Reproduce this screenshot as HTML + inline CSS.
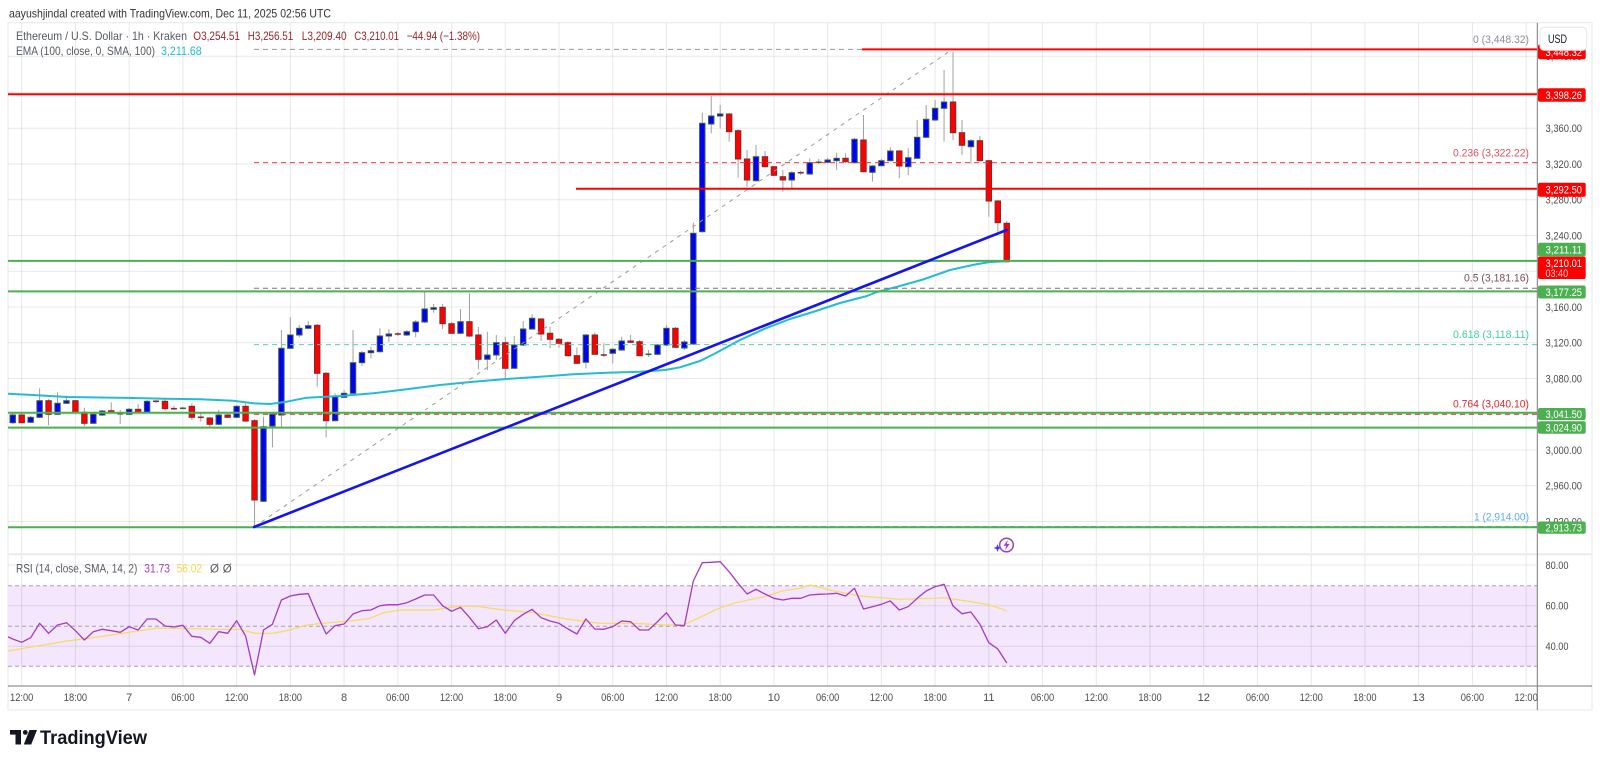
<!DOCTYPE html>
<html><head><meta charset="utf-8">
<style>
html,body{margin:0;padding:0;background:#fff;width:1600px;height:763px;overflow:hidden}
svg{display:block;font-family:"Liberation Sans",Arial,sans-serif}
</style></head><body>
<svg id="s" width="1600" height="763" viewBox="0 0 1600 763" xmlns="http://www.w3.org/2000/svg">
<defs>
<clipPath id="cp"><rect x="8" y="23" width="1529" height="530"/></clipPath>
<clipPath id="cr"><rect x="8" y="555" width="1529" height="131"/></clipPath>
</defs>
<rect x="0" y="0" width="1600" height="763" fill="#fff"/>
<text x="9" y="17.5" font-size="12" fill="#333" textLength="322" lengthAdjust="spacingAndGlyphs">aayushjindal created with TradingView.com, Dec 11, 2025 02:56 UTC</text>
<rect x="8" y="22.7" width="1584" height="687.3" fill="#fff" stroke="#e6e7ea" stroke-width="1"/>
<rect x="8" y="585.7" width="1529" height="80.6" fill="#f3e6fd"/>
<g id="grid"></g>
<rect x="8" y="553" width="1584" height="2.5" fill="#eceef2"/>
<g stroke="#a7a3ad" stroke-width="1" stroke-dasharray="4 3">
<line x1="8" y1="585.7" x2="1537" y2="585.7"/>
<line x1="8" y1="626.3" x2="1537" y2="626.3"/>
<line x1="8" y1="666.3" x2="1537" y2="666.3"/>
</g>
<g clip-path="url(#cp)">
<g id="candles"></g>
<polyline fill="none" stroke="#22bcd4" stroke-width="2" stroke-linejoin="round" points="8,393.7 33,395 66.7,397 100,397.5 133.3,398 166,398.8 200,399.3 233.3,400.7 253.3,403.3 270,404 286.7,401.7 306.7,397.7 340,396 373.3,393.3 406.7,389.3 440,385 473.3,381.7 506.7,379 540,376.7 573.3,374.3 606.7,372.7 640,371.7 665,370 680,367.3 700,361 714,354 740,340 765,328.6 790,319 816,311 840,303 867,296 877,292 900,286 923,279.5 950,270 975,264.5 990,262 1006.7,261.2"/>
<!-- fib dashed levels -->
<g stroke-width="1" stroke-dasharray="5 4" fill="none">
<line x1="254" y1="49.4" x2="1537" y2="49.4" stroke="#9598a1"/>
<line x1="254" y1="162.6" x2="1537" y2="162.6" stroke="#e8404a"/>
<line x1="254" y1="288.2" x2="1537" y2="288.2" stroke="#8f6a7e"/>
<line x1="254" y1="344.6" x2="1537" y2="344.6" stroke="#55d4b0"/>
<line x1="254" y1="414.2" x2="1537" y2="414.2" stroke="#e0282d"/>
<line x1="254" y1="526.5" x2="1537" y2="526.5" stroke="#64b5f6"/>
<line x1="254" y1="527" x2="952" y2="49.5" stroke="#9a9a9a" stroke-dasharray="4 5"/>
</g>
<!-- horizontal lines -->
<g stroke-width="2">
<line x1="862" y1="49.4" x2="1537" y2="49.4" stroke="#ff0000"/>
<line x1="8" y1="94.3" x2="1537" y2="94.3" stroke="#ff0000"/>
<line x1="576" y1="188.8" x2="1537" y2="188.8" stroke="#ff0000"/>
<line x1="8" y1="260.9" x2="1537" y2="260.9" stroke="#4caf50"/>
<line x1="8" y1="291.4" x2="1537" y2="291.4" stroke="#4caf50"/>
<line x1="8" y1="412.8" x2="1537" y2="412.8" stroke="#4caf50"/>
<line x1="8" y1="427.6" x2="1537" y2="427.6" stroke="#4caf50"/>
<line x1="8" y1="527.3" x2="1537" y2="527.3" stroke="#4caf50"/>
</g>
<line x1="254" y1="527" x2="1006.7" y2="230" stroke="#1414f0" stroke-width="2.6" stroke-linecap="round"/>
</g>
<!-- fib labels -->
<g font-size="11" text-anchor="end">
<text x="1529" y="43" fill="#8a8d96" textLength="56" lengthAdjust="spacingAndGlyphs">0 (3,448.32)</text>
<text x="1529" y="156.3" fill="#e05060" textLength="76" lengthAdjust="spacingAndGlyphs">0.236 (3,322.22)</text>
<text x="1529" y="281.7" fill="#7d4d5e" textLength="65" lengthAdjust="spacingAndGlyphs">0.5 (3,181.16)</text>
<text x="1529" y="338" fill="#45cfa0" textLength="76" lengthAdjust="spacingAndGlyphs">0.618 (3,118.11)</text>
<text x="1529" y="407.3" fill="#e0282d" textLength="76" lengthAdjust="spacingAndGlyphs">0.764 (3,040.10)</text>
<text x="1529" y="520.7" fill="#5aaee8" textLength="55" lengthAdjust="spacingAndGlyphs">1 (2,914.00)</text>
</g>
<!-- legend -->
<g font-size="12">
<text x="16" y="40" fill="#555a60" textLength="171" lengthAdjust="spacingAndGlyphs">Ethereum / U.S. Dollar · 1h · Kraken</text>
<text x="193.3" y="40" fill="#9a2626" textLength="46.7" lengthAdjust="spacingAndGlyphs">O3,254.51</text>
<text x="247.7" y="40" fill="#9a2626" textLength="45.6" lengthAdjust="spacingAndGlyphs">H3,256.51</text>
<text x="301.7" y="40" fill="#9a2626" textLength="45" lengthAdjust="spacingAndGlyphs">L3,209.40</text>
<text x="354.3" y="40" fill="#9a2626" textLength="44.7" lengthAdjust="spacingAndGlyphs">C3,210.01</text>
<text x="406.7" y="40" fill="#9a2626" textLength="73.3" lengthAdjust="spacingAndGlyphs">−44.94 (−1.38%)</text>
<text x="16" y="55" fill="#555a60" textLength="139" lengthAdjust="spacingAndGlyphs">EMA (100, close, 0, SMA, 100)</text>
<text x="161" y="55" fill="#1fbcd2" textLength="40.7" lengthAdjust="spacingAndGlyphs">3,211.68</text>
</g>
<!-- RSI -->
<g clip-path="url(#cr)">
<polyline fill="none" stroke="#f7dc5a" stroke-width="1.2" stroke-linejoin="round" points="8,651 33.3,646.7 66.7,641 100,636.7 133.3,631.7 156.7,628.3 183.3,628.3 216.7,629.3 240,629.3 255,633.3 273.3,633.3 290,630 306.7,625 333.3,622.3 353.3,620.7 370,618.3 383.3,612.7 400,610 433.3,610 460,606 480,606.7 500,609.5 533.3,612.7 566.7,619 600,623.3 633.3,623.3 666.7,625 683.3,625 700,617.3 716.7,609.3 733.3,603.3 766.7,596 783.3,590.7 800,588.3 810,585 833.3,590.7 860,596 900,599.3 933.3,598.3 943.3,597.7 966.7,601 986.7,604.3 1000,608.3 1006.7,611"/>
<polyline id="rsi" fill="none" stroke="#a33cbf" stroke-width="1.3" stroke-linejoin="round" points=""/>
</g>
<g font-size="11.5">
<text x="16" y="572.3" fill="#555a60" textLength="121.3" lengthAdjust="spacingAndGlyphs">RSI (14, close, SMA, 14, 2)</text>
<text x="144.3" y="572.3" fill="#a33cbf" textLength="25.7" lengthAdjust="spacingAndGlyphs">31.73</text>
<text x="176.7" y="572.3" fill="#f7d84a" textLength="25.3" lengthAdjust="spacingAndGlyphs">56.02</text>
<text x="210" y="572.3" fill="#555a60">Ø</text>
<text x="222.7" y="572.3" fill="#555a60">Ø</text>
</g>
<!-- icon -->
<g>
<circle cx="1006.5" cy="545" r="6.8" fill="#fff" stroke="#a33cbf" stroke-width="1.5"/>
<path d="M1008,539.8 L1003.6,545.8 L1006.3,545.8 L1005,550.2 L1009.6,544 L1006.8,544 Z" fill="#a33cbf"/>
<path d="M997.5,544 L998.6,547 L1001.5,548 L998.6,549 L997.5,552 L996.4,549 L993.5,548 L996.4,547 Z" fill="#3b3bff"/>
</g>
<!-- axes -->
<line x1="1537.3" y1="22.7" x2="1537.3" y2="710" stroke="#7a7a7a" stroke-width="1"/>
<line x1="8" y1="686" x2="1592" y2="686" stroke="#7a7a7a" stroke-width="1"/>
<g id="axis" font-size="11" fill="#4d4d4d"></g>
<!-- price boxes -->
<g font-size="11" fill="#fff">
<rect x="1538" y="44.5" width="47.7" height="14.8" rx="2" fill="#ff0000"/>
<text x="1545.5" y="56" textLength="36.5" lengthAdjust="spacingAndGlyphs">3,448.32</text>
<rect x="1538" y="88.3" width="47.7" height="13.4" rx="2" fill="#ff0000"/>
<text x="1545.5" y="99" textLength="36.5" lengthAdjust="spacingAndGlyphs">3,398.26</text>
<rect x="1538" y="182.7" width="47.7" height="14" rx="2" fill="#ff0000"/>
<text x="1545.5" y="193.7" textLength="36.5" lengthAdjust="spacingAndGlyphs">3,292.50</text>
<rect x="1538" y="242.7" width="47.7" height="13.6" rx="2" fill="#4caf50"/>
<text x="1545.5" y="253.5" textLength="36.5" lengthAdjust="spacingAndGlyphs">3,211.11</text>
<rect x="1538" y="256.5" width="47.7" height="22.5" rx="2" fill="#ff0000"/>
<text x="1545.5" y="266.8" textLength="36.5" lengthAdjust="spacingAndGlyphs">3,210.01</text>
<text x="1545.5" y="277" fill="#ffd0d0" textLength="22.6" lengthAdjust="spacingAndGlyphs">03:40</text>
<rect x="1538" y="285.5" width="47.7" height="13" rx="2" fill="#4caf50"/>
<text x="1545.5" y="296" textLength="36.5" lengthAdjust="spacingAndGlyphs">3,177.25</text>
<rect x="1538" y="408" width="47.7" height="12" rx="2" fill="#4caf50"/>
<text x="1545.5" y="418" textLength="36.5" lengthAdjust="spacingAndGlyphs">3,041.50</text>
<rect x="1538" y="421.3" width="47.7" height="12.4" rx="2" fill="#4caf50"/>
<text x="1545.5" y="431.5" textLength="36.5" lengthAdjust="spacingAndGlyphs">3,024.90</text>
<rect x="1538" y="521.5" width="47.7" height="12.2" rx="2" fill="#4caf50"/>
<text x="1545.5" y="531.6" textLength="36.5" lengthAdjust="spacingAndGlyphs">2,913.73</text>
</g>
<rect x="1540" y="27.3" width="46.7" height="23" rx="4" fill="#fff" stroke="#e3e5ea"/>
<text x="1548" y="43" font-size="11.5" fill="#131722" textLength="19" lengthAdjust="spacingAndGlyphs">USD</text>
<!-- logo -->
<g fill="#131722">
<rect x="10" y="730" width="11" height="4.6"/>
<rect x="15.5" y="730" width="5.5" height="14.5"/>
<circle cx="25.3" cy="732.4" r="2.4"/>
<path d="M29.5,730 L37,730 L31.2,744.5 L23.8,744.5 Z"/>
<text x="40" y="744" font-size="19.5" font-weight="bold" textLength="107" lengthAdjust="spacingAndGlyphs">TradingView</text>
</g>
</svg>
<script>
(function(){
var NS="http://www.w3.org/2000/svg";
function el(tag,attrs,parent,text){var e=document.createElementNS(NS,tag);for(var k in attrs)e.setAttribute(k,attrs[k]);if(text!=null)e.textContent=text;parent.appendChild(e);return e;}
function X(h){return 21.7+8.955*h;}
var grid=document.getElementById('grid');
// vertical grid
for(var k=0;k<=28;k++){var x=21.7+53.73*k;el('line',{x1:x,y1:23,x2:x,y2:686,stroke:'#000','stroke-opacity':0.09,'stroke-width':1},grid);}
// horizontal price grid
var ticks=[[3440,56.3],[3400,92.6],[3360,128.3],[3320,164],[3280,199.8],[3240,235.5],[3200,271.3],[3160,307],[3120,342.8],[3080,378.5],[3040,414.3],[3000,450],[2960,485.8],[2920,521.5]];
ticks.forEach(function(t){el('line',{x1:8,y1:t[1],x2:1537,y2:t[1],stroke:'#000','stroke-opacity':0.085,'stroke-width':1},grid);});
[565,605.7,646.3].forEach(function(y){el('line',{x1:8,y1:y,x2:1537,y2:y,stroke:'#000','stroke-opacity':0.085,'stroke-width':1},grid);});
// axis labels
var ax=document.getElementById('axis');
function fmt(v){var s=String(v);return s.charAt(0)+','+s.slice(1)+'.00';}
ticks.forEach(function(t){el('text',{x:1545.5,y:t[1]+3.9,textLength:36.5,lengthAdjust:'spacingAndGlyphs'},ax,fmt(t[0]));});
[[80,565],[60,605.7],[40,646.3]].forEach(function(t){el('text',{x:1545.5,y:t[1]+3.9,textLength:23,lengthAdjust:'spacingAndGlyphs'},ax,t[0]+'.00');});
for(var k=0;k<=28;k++){var m=k%4,lab;if(m==0)lab='12:00';else if(m==1)lab='18:00';else if(m==3)lab='06:00';else lab=String(7+Math.floor((k-2)/4));
var a={x:21.7+53.73*k,y:701,'text-anchor':'middle'};if(lab.length>2){a.textLength=23.3;a.lengthAdjust='spacingAndGlyphs';}
el('text',a,ax,lab);}
// candles [h, bodyTop, bodyBot, wickTop, wickBot, up]
var C=[
[-1,415,422.7,412,424,1],[0,415,422.7,413,423.5,0],[1,417.3,422.3,416,423,1],[2,400.7,417.3,388.3,418,1],[3,400.7,414.3,399,425.3,0],
[4,403.3,414.3,392.3,415,1],[5,400.7,403.3,395.7,404,1],[6,400.7,412.3,400,413,0],[7,412.3,423.3,407.7,426,0],[8,414.3,423.3,413,424,1],
[9,411,415,410,416,1],[10,410.7,412.3,402.3,413,0],[11,413.7,413.7,410,424,0],[12,409.3,414.3,408,415,1],[13,409.3,412.3,404.3,413,0],
[14,401.3,412.3,400,413,1],[15,401.3,401.3,400,403.3,0],[16,401.3,408.7,398,410.7,0],[17,408.7,408.7,405.7,410,0],[18,408.3,408.3,407,409.5,1],
[19,406.3,417.3,403.3,420,0],[20,417.3,417.3,413.3,421.7,0],[21,418,424.3,417,426.7,0],[22,415,424.3,410,425,1],[23,415,417.3,414,418,0],
[24,406.3,417.3,405,418,1],[25,406.3,421,403.3,422,0],[26,420.7,500,419,526.7,0],[27,426.7,501.3,416.7,502,1],[28,414.3,426,413,447.3,1],
[29,348.3,415,330,426.7,1],[30,335,348.3,317.3,349,1],[31,328.3,335,325,337,1],[32,325.7,328.3,321,329,1],[33,325.3,373.3,324,386.7,0],
[34,373.3,420.7,372,437.3,0],[35,396.7,420.7,393.3,421.5,1],[36,393.3,397.3,390,398,1],[37,362.7,393.3,330,394,1],[38,352.7,362.7,351,366,1],
[39,350.7,352.7,346.7,358.3,1],[40,336,351.7,328.3,352.5,1],[41,334,336,329.3,341.7,1],[42,334,334,332,336,0],[43,331.7,335,330,336,1],
[44,322,331.7,320,337.3,1],[45,309,322,290.7,323,1],[46,307.7,309.3,304,312.7,1],[47,307.3,323.7,304,329,0],[48,323.7,333.3,322,334,0],
[49,321.7,333.3,309,334,1],[50,321.7,336,293.3,337,0],[51,335,359.3,327,369.3,0],[52,355,359.3,331.7,370,1],[53,342.7,355,335,360,1],
[54,342.7,368.3,336.7,380,0],[55,345,368.3,336,369,1],[56,329,345,321,346,1],[57,318.3,329,314.3,330,1],[58,319,334,318,341,0],
[59,333.3,339.3,326.7,348.3,0],[60,339.3,343.3,338,348,0],[61,342.7,355.7,341,356.5,0],[62,355.7,363.3,347.3,364,0],[63,335,362.3,334,368.3,1],
[64,335,354.3,332.7,355,0],[65,355,355,343.3,357,0],[66,349.3,353.3,348,363.3,1],[67,341,350,336.7,351,1],[68,341,342.3,335,343,0],
[69,341.7,355.7,340,356.5,0],[70,354.3,354.3,350,357,1],[71,345,354.3,344,355,1],[72,328.3,345,325,346,1],[73,328.3,347.3,327,348,0],
[74,342,348,340,350,1],[75,233.3,344,222.7,345,1],[76,123.3,231.7,112.7,232.5,1],[77,116,124,96,133.3,1],[78,114,116,105,128.3,1],
[79,114,131.7,113,141.7,0],[80,130.7,159,129,177.7,0],[81,159,180,150,186.7,0],[82,156.7,180.7,145,181.7,1],[83,156.7,166.7,151,167.5,0],
[84,166.7,175.3,166,176,0],[85,176.7,180,170,191.7,0],[86,172.7,180,171,187.7,1],[87,172.7,172.7,170.7,175,0],[88,162.7,174,158.3,175,1],
[89,162.3,162.3,159,164,1],[90,160,162.3,158,163,1],[91,158.3,160.7,152.7,170,1],[92,158.3,161.7,153.3,163,0],[93,139.3,162.7,138,163.5,1],
[94,140,171.7,115,172.5,0],[95,166,172.3,165,181.7,1],[96,160.7,165.7,159,166.5,1],[97,151,160.7,147.3,161.5,1],[98,151,166,150,178.3,0],
[99,157.7,166.7,148.3,175,1],[100,137.3,158.3,120,159,1],[101,119.3,137.3,105,138,1],[102,108.3,120,100,121,1],[103,102,108.3,70,141.7,1],
[104,102,132.7,51.7,140,0],[105,132.7,145.3,120,155,0],[106,140.7,146.7,139,163.3,1],[107,140.7,160.7,136,161.5,0],[108,160.7,201,160,216.7,0],
[109,201,222.7,200,231.7,0],[110,223.3,261.7,221,262.5,0]];
var cg=document.getElementById('candles');
C.forEach(function(c){var x=X(c[0]);
el('line',{x1:x,y1:c[3],x2:x,y2:c[4],stroke:'#a0a0a0','stroke-width':1},cg);
if(c[2]-c[1]<1.2){el('line',{x1:x-3,y1:c[1],x2:x+3,y2:c[1],stroke:c[5]?'#2f6a3a':'#8a2a2a','stroke-width':1.6},cg);}
else{el('rect',{x:x-2.7,y:c[1],width:5.4,height:c[2]-c[1],fill:c[5]?'#0000ff':'#ff0000',stroke:c[5]?'#3b5e40':'#7d2b2b','stroke-width':1},cg);}
});
// RSI
var R=[639,642.3,637.7,623.3,633.3,625,622.7,630.7,640,631.7,629.3,630.7,632.3,626.7,630,619,619,626,627,625.3,636.3,637.3,643.3,631.7,633.3,620.7,636,675,630,624.3,600,596,594.3,593.7,615,634,625.7,624,614,610.7,610,605.7,604.7,604.7,602.7,599,595,595,605.7,611.3,607.3,617.3,628.7,626.7,620,633.3,620.7,614.3,609.3,617.7,621,623.3,629,634,619,629,629.3,626.7,621,621.7,630,630,621.7,612.7,625,625.7,581,562.7,562.3,561.7,571.7,583.3,594,589.3,594,598.3,600,598.3,598.3,595,594.3,594,593.3,596,588.3,609,606.7,604.3,601,610,606.7,598.3,591,586.7,584.3,606,613.7,612,624.3,642.7,649,663];
var pts=[X(-2)+','+635];
for(var i=0;i<R.length;i++){pts.push(X(i-1).toFixed(1)+','+R[i]);}
document.getElementById('rsi').setAttribute('points',pts.join(' '));
})();
</script>
</body></html>
